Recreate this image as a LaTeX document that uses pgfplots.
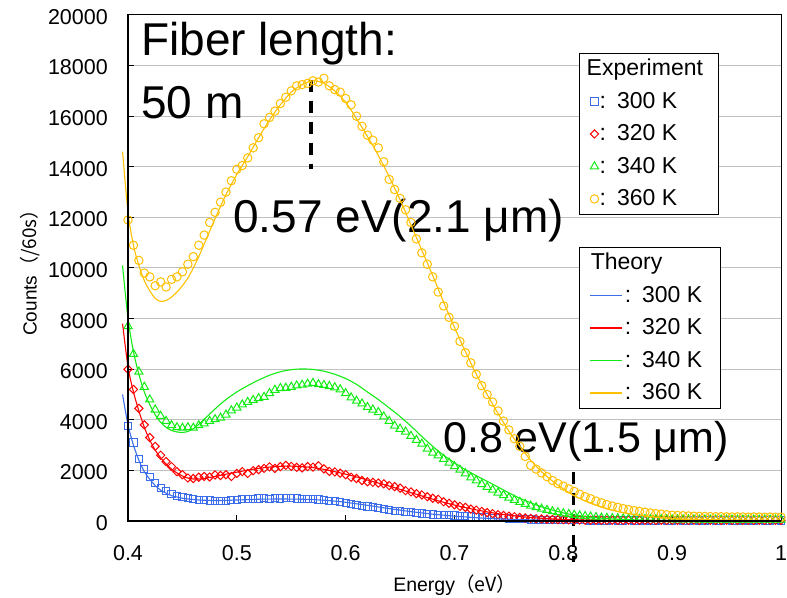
\documentclass[border=0pt]{standalone}
\usepackage{pgfplots}
\pgfplotsset{compat=1.18}
\usepackage{pgfplotstable}
\usepackage{fontspec}
\setmainfont{Liberation Sans}
\newfontfamily\cjk{Noto Sans CJK JP}
\definecolor{cblue}{RGB}{60,110,235}
\definecolor{cred}{RGB}{255,0,0}
\definecolor{cgreen}{RGB}{20,235,20}
\definecolor{cyellow}{RGB}{255,192,0}
\definecolor{gridgray}{RGB}{192,192,192}

\pgfplotstableread{
x b r g y
0.400 3750 6000 7700 11900
0.405 3100 5200 6600 10900
0.410 2450 4450 5900 10300
0.415 2050 3800 5300 9800
0.420 1750 3300 4800 9650
0.425 1500 2950 4400 9300
0.430 1300 2600 4150 9450
0.435 1180 2350 3950 9250
0.440 1080 2150 3780 9550
0.445 1000 1950 3700 9650
0.450 950 1830 3680 9850
0.455 900 1700 3700 10150
0.460 870 1680 3680 10450
0.465 840 1730 3780 10900
0.470 830 1760 3850 11300
0.475 810 1740 3950 11800
0.480 800 1820 4020 12200
0.485 790 1800 4080 12600
0.490 800 1830 4200 13000
0.495 820 1760 4370 13450
0.500 840 1880 4480 13900
0.505 860 1950 4600 14050
0.510 880 1880 4700 14350
0.515 870 1990 4780 14750
0.520 890 2030 4850 15150
0.525 900 2080 4900 15700
0.530 880 2140 5050 15950
0.535 900 2080 5180 16200
0.540 890 2150 5250 16500
0.545 910 2200 5260 16750
0.550 900 2160 5300 17000
0.555 890 2120 5350 17200
0.560 880 2100 5380 17250
0.565 870 2150 5420 17300
0.570 860 2130 5450 17400
0.575 850 2180 5400 17350
0.580 830 2060 5370 17500
0.585 800 1960 5330 17200
0.590 780 1940 5280 17050
0.595 750 1890 5200 16950
0.600 720 1830 5050 16700
0.605 680 1730 4880 16450
0.610 640 1680 4750 16000
0.615 600 1600 4640 15600
0.620 570 1550 4500 15250
0.625 540 1530 4400 15050
0.630 500 1500 4300 14750
0.635 470 1470 4130 14200
0.640 440 1400 3950 13500
0.645 410 1360 3760 13100
0.650 390 1300 3640 12750
0.655 360 1200 3530 12300
0.660 340 1150 3360 11800
0.665 320 1080 3200 11150
0.670 300 1030 3050 10600
0.675 280 960 2850 10150
0.680 260 900 2700 9650
0.685 250 860 2590 9050
0.690 240 760 2450 8500
0.695 230 700 2300 8050
0.700 220 640 2160 7700
0.705 200 580 2020 7100
0.710 190 540 1880 6650
0.715 180 470 1720 6250
0.720 170 430 1600 5800
0.725 150 380 1450 5350
0.730 140 330 1340 5000
0.735 130 290 1230 4700
0.740 120 250 1120 4350
0.745 110 220 1020 3950
0.750 100 190 920 3600
0.755 90 170 830 3250
0.760 80 140 750 2950
0.765 70 120 670 2550
0.770 60 100 600 2200
0.775 55 90 540 2050
0.780 50 80 480 1900
0.785 45 70 430 1750
0.790 40 60 380 1600
0.795 40 55 340 1480
0.800 35 50 300 1380
0.805 30 45 270 1270
0.810 30 40 240 1170
0.815 25 40 210 1060
0.820 25 35 190 960
0.825 20 35 170 880
0.830 25 30 150 790
0.835 20 30 130 720
0.840 20 30 120 650
0.845 25 25 110 590
0.850 20 30 100 540
0.855 20 25 95 490
0.860 25 30 90 450
0.865 20 25 85 410
0.870 20 30 80 380
0.875 25 25 75 350
0.880 20 30 70 320
0.885 20 25 70 290
0.890 25 30 65 270
0.895 20 25 65 250
0.900 20 30 60 230
0.905 25 25 60 220
0.910 20 30 55 210
0.915 20 25 55 200
0.920 25 30 55 190
0.925 20 25 50 185
0.930 20 30 50 180
0.935 25 25 50 175
0.940 20 30 50 170
0.945 20 25 50 170
0.950 25 30 45 165
0.955 20 25 50 160
0.960 20 30 45 165
0.965 25 25 50 160
0.970 20 30 45 155
0.975 20 25 50 160
0.980 25 30 45 155
0.985 20 25 50 150
0.990 20 30 45 155
0.995 25 25 50 150
1.000 20 30 45 150
}\expdata

\pgfplotstableread{
x b r g y
0.395 5000 7800 10100 14600
0.400 3800 6100 8000 12200
0.405 3000 5100 6700 10900
0.410 2400 4350 5800 10100
0.415 1950 3700 5100 9500
0.420 1650 3200 4600 9100
0.425 1400 2800 4200 8800
0.430 1220 2500 3900 8680
0.435 1100 2250 3700 8720
0.440 1000 2050 3580 8850
0.445 950 1900 3520 9050
0.450 900 1780 3500 9300
0.455 870 1700 3540 9600
0.460 850 1660 3650 10000
0.465 830 1660 3820 10450
0.470 820 1680 4020 10950
0.480 810 1760 4430 11950
0.490 815 1850 4800 12900
0.500 830 1930 5100 13700
0.510 845 2010 5350 14400
0.520 860 2080 5570 15150
0.530 865 2130 5760 15850
0.540 870 2160 5900 16450
0.550 865 2170 5980 16950
0.560 860 2150 6010 17250
0.570 845 2110 5990 17400
0.580 820 2040 5920 17300
0.590 785 1950 5800 17000
0.600 740 1850 5630 16550
0.610 680 1740 5400 15900
0.620 620 1620 5100 15200
0.630 555 1500 4800 14450
0.640 490 1380 4470 13600
0.650 430 1250 4130 12700
0.660 370 1120 3750 11700
0.670 320 990 3340 10700
0.680 270 860 2950 9700
0.690 230 740 2600 8650
0.700 190 630 2300 7650
0.710 160 530 2030 6700
0.720 130 440 1790 5800
0.730 105 360 1570 5000
0.740 85 290 1340 4250
0.750 70 230 1110 3550
0.760 55 180 900 2950
0.770 45 140 720 2400
0.780 35 110 560 1950
0.790 28 80 430 1580
0.800 20 60 320 1270
0.810 15 45 240 1000
0.820 12 35 180 790
0.830 10 25 130 620
0.840 8 20 95 480
0.850 6 15 70 370
0.860 5 12 55 290
0.870 4 10 40 220
0.880 3 8 30 170
0.890 2 6 25 130
0.900 2 5 20 100
0.920 1 3 14 70
0.940 1 2 10 50
0.960 0 1 7 40
0.980 0 1 5 30
1.000 0 0 4 25
}\thdata

\pgfplotsset{
  base/.style={width=653pt, height=506pt, scale only axis,
    xmin=0.4, xmax=1, ymin=0, ymax=20000, clip=false,
    scaled x ticks=false, scaled y ticks=false},
  legbase/.style={
    legend cell align=left,
    legend style={draw=black, line width=1pt, fill=white,
      inner xsep=10pt, inner ysep=6pt, row sep=13.5pt,
      font=\fontsize{23}{26}\selectfont,
      nodes={inner sep=0pt, text height=16.5pt, text depth=2.5pt, anchor=west}}
  }
}

\begin{document}
\begin{tikzpicture}
\begin{axis}[base, legbase,
  /pgf/number format/assume math mode=true,
  axis line style={line width=1pt},
  tick pos=left, tick align=inside, major tick length=6pt,
  tick style={black, line width=1pt},
  xtick={0.4,0.5,0.6,0.7,0.8,0.9,1},
  xticklabels={0.4,0.5,0.6,0.7,0.8,0.9,1},
  ytick={0,2000,4000,6000,8000,10000,12000,14000,16000,18000,20000},
  yticklabels={0,2000,4000,6000,8000,10000,12000,14000,16000,18000,20000},
  ymajorgrids, grid style={draw=gridgray, line width=1pt},
  tick label style={font=\fontsize{21.5}{24}\selectfont},
  yticklabel style={anchor=east, inner sep=0pt, xshift=-20pt, yshift=-2pt},
  xticklabel style={anchor=base, inner sep=0pt, yshift=-39pt},
  xlabel={Energy\cjk{（}eV\cjk{）}},
  xlabel style={at={(rel axis cs:0.5,-0.1403)}, anchor=base, font=\fontsize{19.5}{22}\selectfont},
  ylabel={Counts\cjk{（}/60s\cjk{）}},
  ylabel style={at={(rel axis cs:-0.1496,0.5)}, anchor=center, font=\fontsize{19}{22}\selectfont},
  legend style={at={(rel axis cs:0.6906,0.925)}, anchor=north west, column sep=1pt},
  legend image code/.code={\draw[mark repeat=2, mark phase=2] plot coordinates {(0pt,0pt) (5pt,0pt) (10pt,0pt)};},
]
\addlegendimage{empty legend}
\addlegendentry{\hspace*{-13pt}Experiment\hspace*{6pt}}
\addplot[only marks, mark=square, mark size=3.6pt, color=cblue, mark options={line width=1pt}] table[x=x, y=b] {\expdata};
\addlegendentry{:\hspace{11pt}300 K}
\addplot[only marks, mark=square, mark size=2.9pt, color=cred, mark options={rotate=45, line width=1pt}] table[x=x, y=r] {\expdata};
\addlegendentry{:\hspace{11pt}320 K}
\addplot[only marks, mark=triangle, mark size=4.7pt, color=cgreen, mark options={line width=1pt}] table[x=x, y=g] {\expdata};
\addlegendentry{:\hspace{11pt}340 K}
\addplot[only marks, mark=o, mark size=4.2pt, color=cyellow, mark options={line width=1pt}] table[x=x, y=y] {\expdata};
\addlegendentry{:\hspace{11pt}360 K}

\draw[black, line width=3.5pt, dash pattern=on 12pt off 9pt] (axis cs:0.568,17450) -- (axis cs:0.568,13900);
\draw[black, line width=3.5pt, dash pattern=on 12pt off 9pt] (axis cs:0.8095,1950) -- (axis cs:0.8095,-1620);

\node[anchor=base west, inner sep=0pt, font=\fontsize{46}{52}\selectfont] at (rel axis cs:0.0199,0.919) {Fiber length:};
\node[anchor=base west, inner sep=0pt, font=\fontsize{46}{52}\selectfont] at (rel axis cs:0.0199,0.7964) {50 m};
\node[anchor=base west, inner sep=0pt, font=\fontsize{46}{52}\selectfont] at (rel axis cs:0.1608,0.5692) {0.57 eV(2.1 μm)};
\node[anchor=base west, inner sep=0pt, font=\fontsize{43}{50}\selectfont] at (rel axis cs:0.4824,0.1344) {0.8 eV(1.5 μm)};

\coordinate (BL) at (rel axis cs:0,0);
\coordinate (TR) at (rel axis cs:1,1);
\end{axis}

\begin{axis}[base, legbase, hide axis,
  legend style={at={(rel axis cs:0.6906,0.5415)}, anchor=north west, column sep=2pt},
  legend image code/.code={\draw[line width=1.3pt] (0pt,0pt) -- (32pt,0pt);},
]
\addlegendimage{empty legend}
\addlegendentry{\hspace*{-34pt}Theory}
\addplot[color=cblue, line width=1.1pt, no marks, smooth] table[x=x, y=b] {\thdata};
\addlegendentry{:\hspace{11pt}300 K\hspace*{8pt}}
\addplot[color=cred, line width=1.1pt, no marks, smooth] table[x=x, y=r] {\thdata};
\addlegendentry{:\hspace{11pt}320 K\hspace*{8pt}}
\addplot[color=cgreen, line width=1.1pt, no marks, smooth] table[x=x, y=g] {\thdata};
\addlegendentry{:\hspace{11pt}340 K\hspace*{8pt}}
\addplot[color=cyellow, line width=1.1pt, no marks, smooth] table[x=x, y=y] {\thdata};
\addlegendentry{:\hspace{11pt}360 K\hspace*{8pt}}
\draw[line width=2pt] (rel axis cs:0,1) -- (rel axis cs:0,0) -- (rel axis cs:1,0);
\end{axis}

\pgfresetboundingbox
\path[use as bounding box] ([shift={(-128pt,-76pt)}]BL) rectangle ([shift={(6pt,15pt)}]TR);
\end{tikzpicture}
\end{document}
